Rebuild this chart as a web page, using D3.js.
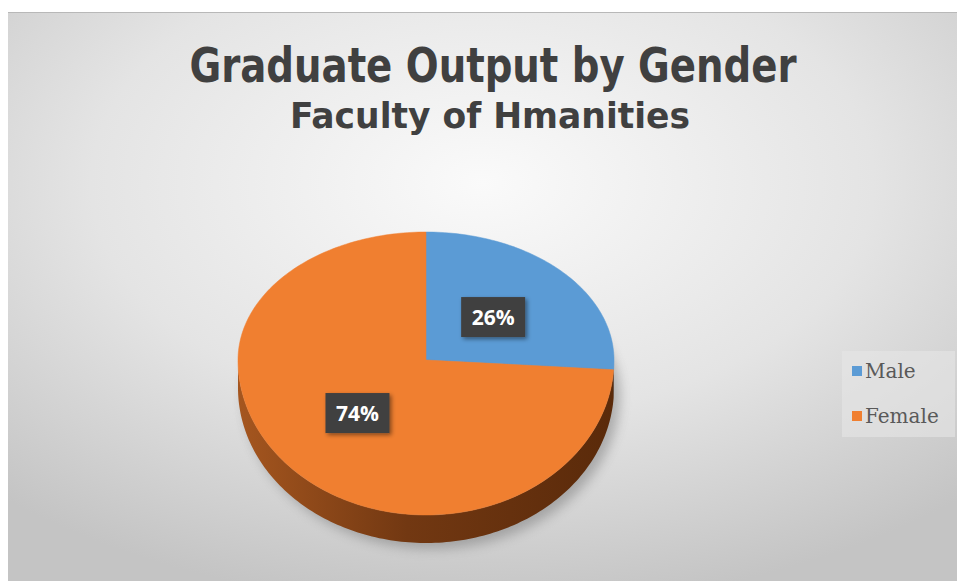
<!DOCTYPE html>
<html><head><meta charset="utf-8">
<script src="https://cdn.jsdelivr.net/npm/d3@7"></script>
<style>html,body{margin:0;padding:0;background:#fff;overflow:hidden}</style>
</head><body>
<svg id="c" width="957" height="581"></svg>
<script>
const categories = ["Male", "Female"];
const values = [26, 74];
const labels = ["26%", "74%"];
const colors = ["#5B9BD5", "#F07F30"];
const titleText = "Graduate Output by Gender";
const subtitleText = "Faculty of Hmanities";

const svg = d3.select("#c");
const defs = svg.append("defs");

const bg = defs.append("radialGradient").attr("id","bg").attr("cx","0.5").attr("cy","0.3").attr("r","0.75");
bg.append("stop").attr("offset","0").attr("stop-color","#fafafa");
bg.append("stop").attr("offset","0.55").attr("stop-color","#e4e4e4");
bg.append("stop").attr("offset","1").attr("stop-color","#c4c4c4");

const side = defs.append("linearGradient").attr("id","side").attr("x1","0").attr("x2","1").attr("y1","0").attr("y2","0");
side.append("stop").attr("offset","0").attr("stop-color","#a5561f");
side.append("stop").attr("offset","0.45").attr("stop-color","#723812");
side.append("stop").attr("offset","1").attr("stop-color","#5a2a0a");

const sideB = defs.append("linearGradient").attr("id","sideB").attr("x1","0").attr("x2","0").attr("y1","0").attr("y2","1");
sideB.append("stop").attr("offset","0").attr("stop-color","#2f5f8f");
sideB.append("stop").attr("offset","1").attr("stop-color","#23486e");

const blur = defs.append("filter").attr("id","blur").attr("x","-20%").attr("y","-20%").attr("width","140%").attr("height","140%");
blur.append("feGaussianBlur").attr("stdDeviation", 6);

const ds = defs.append("filter").attr("id","ds").attr("x","-30%").attr("y","-30%").attr("width","160%").attr("height","160%");
ds.append("feDropShadow").attr("dx",2).attr("dy",2).attr("stdDeviation",2).attr("flood-color","#000").attr("flood-opacity",0.45);

// panel
svg.append("rect").attr("x",8).attr("y",12).attr("width",949).attr("height",569).attr("fill","url(#bg)");
svg.append("line").attr("x1",8).attr("x2",957).attr("y1",12.5).attr("y2",12.5).attr("stroke","#b8b8b8").attr("stroke-width",1);

// titles
svg.append("text").attr("x",493).attr("y",82).attr("text-anchor","middle")
  .attr("font-family","'Liberation Sans Narrow','DejaVu Sans Condensed','Roboto Condensed',sans-serif")
  .attr("font-weight","bold").attr("font-size",48).attr("fill","#404040")
  .attr("textLength",607).attr("lengthAdjust","spacingAndGlyphs").text(titleText);
svg.append("text").attr("x",490).attr("y",128).attr("text-anchor","middle")
  .attr("font-family","'Liberation Sans Narrow','DejaVu Sans Condensed','Roboto Condensed',sans-serif")
  .attr("font-weight","bold").attr("font-size",36).attr("fill","#404040")
  .attr("textLength",400).attr("lengthAdjust","spacingAndGlyphs").text(subtitleText);

// 3D pie geometry
const cx = 426, cy = 360, rx = 188, ryT = 128, ryB = 155, depth = 28;
const pt = (a, dy=0) => {
  const c = Math.cos(a);
  return [cx + rx*Math.sin(a), cy - (c > 0 ? ryT : ryB)*c + dy];
};
const arcs = d3.pie().sort(null).value(d => d)(values);
const samples = (a0, a1, dy=0) => {
  const n = Math.max(2, Math.ceil((a1-a0)/0.02));
  return d3.range(n+1).map(i => pt(a0 + (a1-a0)*i/n, dy));
};
const line = d3.line();

// shadow
svg.append("path").attr("d", line(samples(0, 2*Math.PI, depth+4)) + "Z")
  .attr("fill","#6a6a6a").attr("opacity",0.45).attr("filter","url(#blur)")
  .attr("transform","translate(6,2)");

// sides (front half)
const g = svg.append("g");
arcs.forEach((a, i) => {
  const s0 = Math.max(a.startAngle, Math.PI/2), s1 = Math.min(a.endAngle, 3*Math.PI/2);
  if (s1 <= s0) return;
  const top = samples(s0, s1, 0), bot = samples(s0, s1, depth).reverse();
  g.append("path").attr("d", line(top.concat(bot)) + "Z")
    .attr("fill", i === 0 ? "url(#sideB)" : "url(#side)");
});

// top faces
arcs.forEach((a, i) => {
  const pts = [[cx, cy]].concat(samples(a.startAngle, a.endAngle, 0));
  g.append("path").attr("d", line(pts) + "Z").attr("fill", colors[i])
    .attr("stroke", colors[i]).attr("stroke-width", 0.5);
});

// data labels
const labelR = [0.49, 0.5];
arcs.forEach((a, i) => {
  const m = (a.startAngle + a.endAngle)/2;
  const c = Math.cos(m);
  const x = cx + labelR[i]*rx*Math.sin(m);
  const y = cy - labelR[i]*(c > 0 ? ryT : ryB)*c;
  const lg = svg.append("g").attr("transform", `translate(${x},${y})`);
  lg.append("rect").attr("x",-32).attr("y",-20).attr("width",64).attr("height",40)
    .attr("fill","#3f3f3f").attr("filter","url(#ds)");
  lg.append("text").attr("text-anchor","middle").attr("dy","0.36em")
    .attr("font-family","'Open Sans',sans-serif").attr("font-weight","bold")
    .attr("font-size",21).attr("fill","#ffffff").text(labels[i]);
});

// legend
svg.append("rect").attr("x",842).attr("y",351).attr("width",113).attr("height",86).attr("fill","#e6e6e6").attr("opacity",0.6);
const leg = svg.append("g");
categories.forEach((c, i) => {
  const y = 371 + i*45;
  leg.append("rect").attr("x",852).attr("y",y-5).attr("width",10).attr("height",10).attr("fill",colors[i]);
  leg.append("text").attr("x",865).attr("y",y).attr("dy","0.35em")
    .attr("font-family","'DejaVu Serif','Liberation Serif',serif").attr("font-size",20)
    .attr("fill","#595959").text(c);
});
</script>
</body></html>
